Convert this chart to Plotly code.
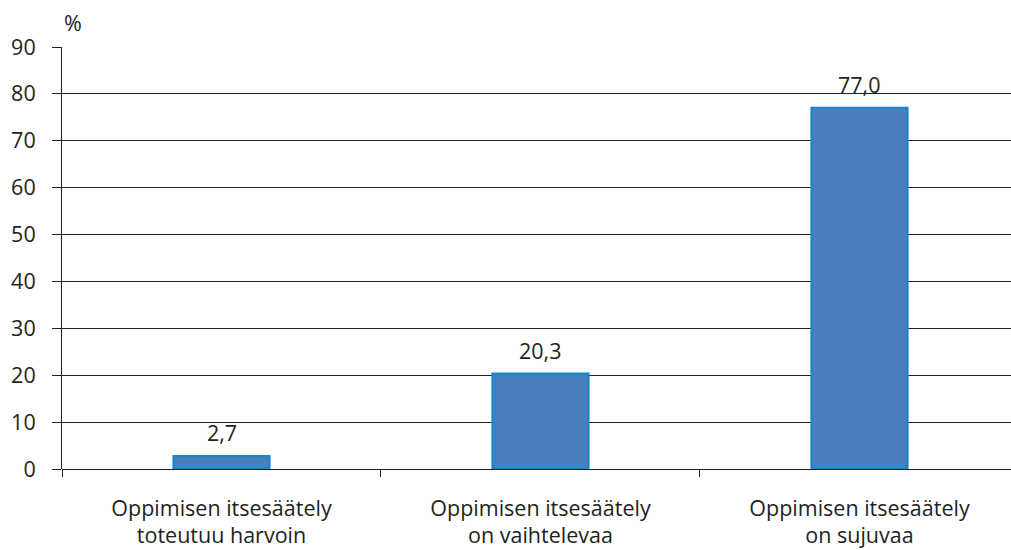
import plotly.graph_objects as go

categories = ["Oppimisen itsesäätely<br>toteutuu harvoin",
              "Oppimisen itsesäätely<br>on vaihtelevaa",
              "Oppimisen itsesäätely<br>on sujuvaa"]
values = [2.7, 20.3, 77.0]
labels = ["2,7", "20,3", "77,0"]
y_ticks = [0, 10, 20, 30, 40, 50, 60, 70, 80, 90]

FONT = "Open Sans"
FS = 21.5
DARK = "#231f20"

fig = go.Figure(go.Bar(
    x=categories, y=values,
    marker=dict(color="#4a7ebf", line=dict(color="#1b86cc", width=2.5)),
    width=0.3,
))

annots = [dict(x=c, y=v, text=t, xref="x", yref="y", xanchor="center",
               yanchor="bottom", yshift=7, showarrow=False,
               font=dict(size=FS, family=FONT, color=DARK))
          for c, v, t in zip(categories, values, labels)]
annots.append(dict(text="%", xref="paper", yref="paper", x=0, y=1,
                   xanchor="left", yanchor="bottom", yshift=8, showarrow=False,
                   font=dict(size=FS, family=FONT, color=DARK)))

fig.update_layout(
    width=1011, height=550,
    margin=dict(l=62, r=0, t=47, b=81),
    paper_bgcolor="white", plot_bgcolor="white",
    font=dict(family=FONT, size=FS, color=DARK),
    showlegend=False,
    xaxis=dict(range=[-0.5, 2.475], showgrid=False, showline=False,
               ticks="outside", tickson="boundaries", ticklen=7,
               tickcolor=DARK, tickwidth=1, ticklabelstandoff=24,
               tickfont=dict(size=FS, family=FONT)),
    yaxis=dict(range=[0, 90], tickvals=y_ticks, showgrid=True,
               gridcolor=DARK, gridwidth=1, showline=True,
               linecolor=DARK, linewidth=1, zeroline=True,
               zerolinecolor=DARK, zerolinewidth=1,
               ticks="outside", ticklen=9, tickcolor=DARK,
               ticklabelstandoff=12,
               tickfont=dict(size=FS, family=FONT)),
    annotations=annots,
)

fig.write_html("out.html")
